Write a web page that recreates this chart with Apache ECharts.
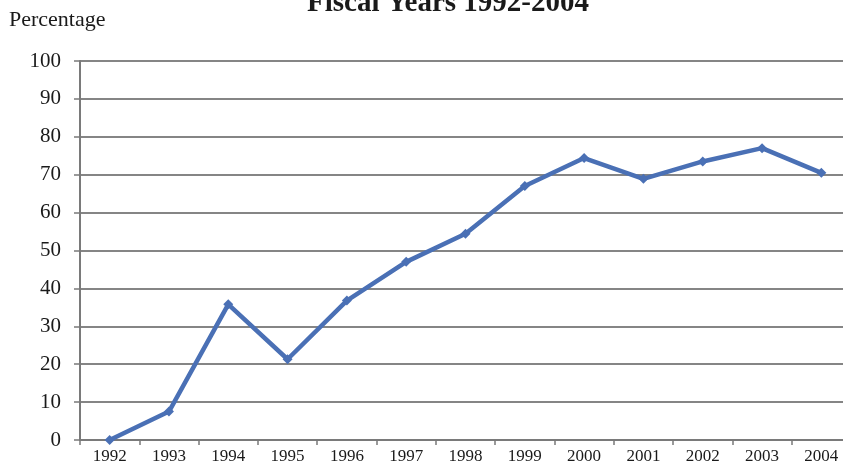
<!DOCTYPE html>
<html><head><meta charset="utf-8">
<script src="https://cdn.jsdelivr.net/npm/echarts@6/dist/echarts.min.js"></script>
<style>html,body{margin:0;padding:0;background:#fff;overflow:hidden;width:843px;height:467px}#c{width:851px;height:467px}</style>
</head><body><div id="c"></div>
<script>
var years = ['1992','1993','1994','1995','1996','1997','1998','1999','2000','2001','2002','2003','2004'];
var percentages = [0, 7.5, 35.8, 21.3, 36.8, 47, 54.4, 67, 74.4, 68.9, 73.5, 77, 70.5];
var chart = echarts.init(document.getElementById('c'));
var serif = '"Liberation Serif", "DejaVu Serif", serif';
chart.setOption({
  backgroundColor: '#ffffff',
  animation: false,
  title: {
    text: 'Fiscal Years 1992-2004',
    left: 443, top: -16, textAlign: 'center',
    textStyle: {fontFamily: serif, fontWeight: 'bold', fontSize: 29, color: '#1a1a1a'}
  },
  graphic: [{type: 'text', left: 9, top: 9, style: {text: 'Percentage', font: '22px ' + serif, fill: '#1a1a1a'}}],
  grid: {left: 80, right: 0, top: 61, bottom: 27},
  xAxis: {
    type: 'category', data: years, boundaryGap: true,
    axisLine: {lineStyle: {color: '#7a7a7a', width: 2}},
    axisTick: {show: true, length: 5, lineStyle: {color: '#7a7a7a', width: 1.5}},
    axisLabel: {fontFamily: serif, fontSize: 17, color: '#1a1a1a', margin: 8, interval: 0}
  },
  yAxis: {
    type: 'value', min: 0, max: 100, interval: 10,
    axisLine: {show: true, lineStyle: {color: '#7a7a7a', width: 2}},
    axisTick: {show: true, length: 6, lineStyle: {color: '#7a7a7a', width: 1.5}},
    splitLine: {lineStyle: {color: '#858585', width: 2}},
    axisLabel: {fontFamily: serif, fontSize: 21, color: '#1a1a1a', margin: 19}
  },
  series: [{
    type: 'line', data: percentages,
    symbol: 'diamond', symbolSize: 10,
    lineStyle: {color: '#4a70b5', width: 4.5},
    itemStyle: {color: '#4a70b5'}
  }]
});
</script></body></html>
